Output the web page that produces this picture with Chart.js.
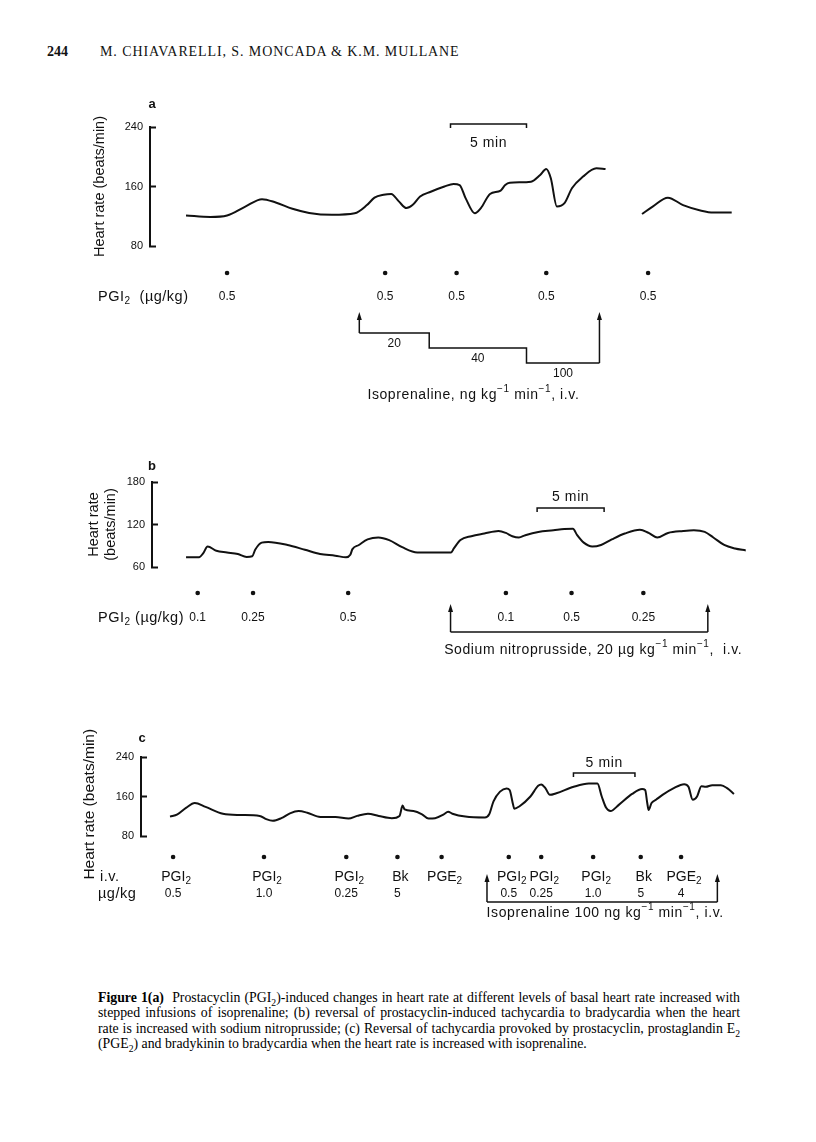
<!DOCTYPE html>
<html>
<head>
<meta charset="utf-8">
<script src="https://cdn.jsdelivr.net/npm/chart.js@4.4.1/dist/chart.umd.min.js"></script>
<style>
  body { margin: 0; background: #fff; }
  #page { position: relative; width: 816px; height: 1142px; overflow: hidden; color: #111; font-family: "Liberation Serif", "Times New Roman", serif; }
  canvas { position: absolute; left: 0; }
  #head { position: absolute; left: 47px; top: 44px; font-size: 14px; white-space: nowrap; }
  #head b { display: inline-block; width: 53px; }
  #head span { letter-spacing: 0.9px; }
  #caption { position: absolute; left: 98px; top: 990px; width: 642px; font-size: 13.8px; line-height: 15.4px; color: #000; }
  #caption div { white-space: nowrap; text-align: justify; text-align-last: justify; }
  #caption div.last { text-align-last: left; }
  sub { font-size: 70%; line-height: 0; }
</style>
</head>
<body>
<div id="page">
  <div id="head"><b>244</b><span>M. CHIAVARELLI, S. MONCADA &amp; K.M. MULLANE</span></div>
  <canvas id="chartA" width="816" height="330" style="top:80px"></canvas>
  <canvas id="chartB" width="816" height="220" style="top:450px"></canvas>
  <canvas id="chartC" width="816" height="205" style="top:725px"></canvas>
  <div id="caption">
    <div><b>Figure 1(a)</b>&nbsp; Prostacyclin (PGI<sub>2</sub>)-induced changes in heart rate at different levels of basal heart rate increased with</div>
    <div>stepped infusions of isoprenaline; (b) reversal of prostacyclin-induced tachycardia to bradycardia when the heart</div>
    <div>rate is increased with sodium nitroprusside; (c) Reversal of tachycardia provoked by prostacyclin, prostaglandin E<sub>2</sub></div>
    <div class="last">(PGE<sub>2</sub>) and bradykinin to bradycardia when the heart rate is increased with isoprenaline.</div>
  </div>
</div>
<script>
// panel a: time in min, heart rate in beats/min (null = gap in the record)
const aTime = [0, 1.6, 2.7, 3.9, 5.0, 5.9, 7.0, 8.1, 9.6, 11.1, 11.9, 12.4, 13.0, 13.5, 14.0, 14.5, 14.9, 15.4, 16.1, 17.0,
  17.6, 18.0, 18.4, 19.0, 19.4, 20.0, 20.7, 21.0, 21.3, 22.7, 23.3, 23.7, 24.0, 24.4, 24.9, 25.4, 26.1, 27.0, 27.6,
  28.8, 30.0, 30.7, 31.7, 32.7, 33.9, 34.7, 35.9];
const aRate = [121, 119, 121, 133, 143, 138.5, 130, 124.5, 122, 124, 135, 145, 149, 150, 140, 131, 135, 146.5, 153, 160,
  163.5, 162, 144, 124, 131, 150, 154.5, 162, 165, 166.5, 175.5, 183.5, 171, 133, 137.5, 158, 173, 184.5, 183.5,
  null, 123, 133, 145, 135, 127.5, 125, 125];
const aDoseTime = [2.7, 13.1, 17.8, 23.7, 30.4];
const aDoseLabel = ['0.5', '0.5', '0.5', '0.5', '0.5'];
const aIsoTime = [11.4, 16.0, 22.4, 27.2];
const aIsoLabel = ['20', '40', '100'];
const aBar = [17.4, 22.4];
const aTicks = [80, 240, 80];

// panel b
const bTime = [0, 0.97, 1.29, 1.61, 2.26, 3.06, 3.87, 4.52, 4.94, 5.16, 5.65, 6.13, 7.58, 8.87, 10.0, 11.13, 11.94, 12.26,
  12.42, 12.9, 13.55, 14.35, 15.16, 16.13, 17.26, 18.55, 19.77, 20.0, 20.48, 21.29, 22.26, 23.32, 23.87, 24.35, 24.84,
  25.32, 26.29, 27.42, 28.23, 28.87, 29.19, 29.68, 30.32, 30.97, 31.77, 32.74, 33.87, 34.52, 35.16, 35.97, 37.1, 37.9,
  38.71, 39.35, 40.16, 40.97, 41.77];
const bRate = [73.7, 73.7, 79.7, 88.9, 82.9, 80.6, 78.3, 74.2, 75.1, 84.3, 94.4, 95.3, 91.1, 84.3, 78.3, 76, 73.7, 77.4,
  85.2, 91.1, 98.9, 101.7, 98, 88, 80.6, 80.6, 80.6, 86.6, 98, 103.5, 107.2, 110.8, 108.1, 103.5, 101.7,
  104.9, 109.5, 111.8, 113.6, 114, 104.9, 94.4, 88.9, 91.1, 98.9, 107.2, 112.7, 108.1, 101.7, 108.1, 110.8, 111.8,
  109.5, 101.7, 91.1, 86.1, 83.4];
const bDoseTime = [0.87, 5.0, 12.1, 23.87, 28.77, 34.13];
const bDoseLabel = ['0.1', '0.25', '0.5', '0.1', '0.5', '0.25'];
const bSnpTime = [19.74, 38.94];
const bBar = [26.2, 31.2];
const bTicks = [60, 180, 60];

// panel c
const cTime = [0, 0.6, 1.3, 2.01, 2.89, 4.3, 5.7, 7.29, 7.82, 8.35, 9.05, 9.75, 10.46, 11.16, 12.22, 13.45, 14.51, 15.21,
  16.09, 16.97, 18.03, 18.66, 18.91, 19.08, 19.79, 20.49, 21.02, 21.55, 22.25, 22.61, 22.96, 24.01, 25.6, 25.95, 26.3,
  26.83, 27.36, 27.61, 27.89, 27.99, 28.42, 29.3, 29.93, 30.18, 30.53, 30.88, 31.41, 32.82, 34.05, 34.75, 35.1, 35.46,
  35.81, 36.51, 37.57, 38.38, 38.63, 38.8, 38.91, 39.15, 39.51, 40.04, 40.92, 41.8, 42.15, 42.5, 42.85, 43.2, 43.56,
  44.08, 44.79, 45.32, 45.85];
const cRate = [119.3, 123.9, 137, 146.9, 139, 125.2, 122.6, 120.7, 114.1, 110.8, 116.1, 125.9, 130.5, 127.2, 118.7, 118.7,
  115.4, 120.7, 125.2, 120.7, 116.1, 120.7, 141.6, 133.8, 130.5, 123.9, 115.4, 116.1, 123.9, 129.2, 125.2, 119.3, 117.4,
  123.9, 150.2, 169.8, 176.4, 173.1, 143.6, 135.1, 140.3, 160, 181.6, 184.3, 176.4, 163.3, 166.6, 179.7, 186.2, 186.2,
  160, 137, 130.5, 143.6, 165.2, 175.1, 173.1, 146.9, 132.5, 146.9, 153.4, 163.3, 176.4, 184.9, 179.7, 153.4, 160, 181,
  179.7, 182.9, 182.9, 176.4, 165.2];
const cDoseTime = [0.25, 7.64, 14.33, 18.49, 22.08, 27.54, 30.18, 34.4, 38.27, 41.55];
const cDrug = ['PGI2', 'PGI2', 'PGI2', 'Bk', 'PGE2', 'PGI2', 'PGI2', 'PGI2', 'Bk', 'PGE2'];
const cDose = ['0.5', '1.0', '0.25', '5', '', '0.5', '0.25', '1.0', '5', '4'];
const cIsoTime = [25.77, 44.5];
const cBar = [32.8, 37.8];
const cTicks = [80, 240, 80];

const INK = '#111';
const FONT = '"Liberation Sans", Arial, Helvetica, sans-serif';

function txt(ctx, s, x, y, size, align, weight, spacing) {
  ctx.font = (weight || '') + ' ' + size + 'px ' + FONT;
  ctx.letterSpacing = spacing || '0px';
  ctx.textAlign = align || 'center';
  ctx.textBaseline = 'middle';
  ctx.fillText(s, x, y);
  ctx.letterSpacing = '0px';
}

// parts: [text, 0 normal | 1 subscript | 2 superscript]
function rich(ctx, parts, x, y, size, align, weight, spacing) {
  const w0 = weight ? weight + ' ' : '';
  const big = w0 + size + 'px ' + FONT, small = w0 + Math.round(size * 0.72) + 'px ' + FONT;
  ctx.letterSpacing = spacing || '0px';
  let w = 0;
  parts.forEach(p => { ctx.font = p[1] ? small : big; w += ctx.measureText(p[0]).width; });
  let cx = align === 'center' ? x - w / 2 : align === 'right' ? x - w : x;
  ctx.textAlign = 'left';
  ctx.textBaseline = 'middle';
  parts.forEach(p => {
    ctx.font = p[1] ? small : big;
    const dy = p[1] === 1 ? size * 0.32 : p[1] === 2 ? -size * 0.38 : 0;
    ctx.fillText(p[0], cx, y + dy);
    cx += ctx.measureText(p[0]).width;
  });
  ctx.letterSpacing = '0px';
}

function chem(s) {
  const m = s.match(/^(PG[IE])(\d)$/);
  return m ? [[m[1], 0], [m[2], 1]] : [[s, 0]];
}

function dot(ctx, x, y) {
  ctx.beginPath(); ctx.arc(x, y, 2.3, 0, Math.PI * 2); ctx.fill();
}

function arrowUp(ctx, x, tip, from) {
  ctx.beginPath(); ctx.moveTo(x, from); ctx.lineTo(x, tip + 6); ctx.stroke();
  ctx.beginPath(); ctx.moveTo(x, tip); ctx.lineTo(x - 2.5, tip + 8); ctx.lineTo(x + 2.5, tip + 8); ctx.closePath(); ctx.fill();
}

function timeBar(ctx, x0, x1, y, textY) {
  ctx.lineWidth = 1.5;
  ctx.beginPath(); ctx.moveTo(x0, y + 4); ctx.lineTo(x0, y); ctx.lineTo(x1, y); ctx.lineTo(x1, y + 4); ctx.stroke();
  txt(ctx, '5 min', (x0 + x1) / 2, textY, 14, 'center', '', '0.6px');
}

const SUP = [[' min', 0], ['−1', 2]];

const panelA = {
  id: 'panelA',
  afterDraw(chart) {
    const { ctx, chartArea: { left, top, bottom }, scales: { x } } = chart;
    const px = t => x.getPixelForValue(t);
    ctx.save();
    ctx.strokeStyle = INK; ctx.fillStyle = INK;
    txt(ctx, 'a', left + 2, top - 23, 13, 'center', 'bold');
    timeBar(ctx, px(aBar[0]), px(aBar[1]), top - 3, top + 16);
    aDoseTime.forEach((t, i) => { dot(ctx, px(t), bottom + 27); txt(ctx, aDoseLabel[i], px(t), bottom + 51, 12); });
    rich(ctx, [['PGI', 0], ['2', 1], ['  (µg/kg)', 0]], 98, bottom + 51, 14.5, 'left', '', '0.5px');
    const sx = aIsoTime.map(px);
    const lv = [bottom + 87, bottom + 102, bottom + 117];
    ctx.lineWidth = 1.5;
    ctx.beginPath();
    ctx.moveTo(sx[0], lv[0]); ctx.lineTo(sx[1], lv[0]); ctx.lineTo(sx[1], lv[1]);
    ctx.lineTo(sx[2], lv[1]); ctx.lineTo(sx[2], lv[2]); ctx.lineTo(sx[3], lv[2]);
    ctx.stroke();
    arrowUp(ctx, sx[0], bottom + 66, lv[0]);
    arrowUp(ctx, sx[3], bottom + 66, lv[2]);
    aIsoLabel.forEach((s, i) => txt(ctx, s, (sx[i] + sx[i + 1]) / 2, lv[i] + 11, 12));
    rich(ctx, [['Isoprenaline, ng kg', 0], ['−1', 2]].concat(SUP, [[', i.v.', 0]]), (sx[0] + sx[3]) / 2 - 6, bottom + 149, 14, 'center', '', '0.6px');
    ctx.restore();
  }
};

const panelB = {
  id: 'panelB',
  afterDraw(chart) {
    const { ctx, chartArea: { left, top, bottom }, scales: { x } } = chart;
    const px = t => x.getPixelForValue(t);
    ctx.save();
    ctx.strokeStyle = INK; ctx.fillStyle = INK;
    txt(ctx, 'b', left, top - 16, 13, 'center', 'bold');
    timeBar(ctx, px(bBar[0]), px(bBar[1]), top + 26, top + 15);
    bDoseTime.forEach((t, i) => { dot(ctx, px(t), bottom + 26); txt(ctx, bDoseLabel[i], px(t), bottom + 51, 12); });
    rich(ctx, [['PGI', 0], ['2', 1], [' (µg/kg)', 0]], 98, bottom + 51, 14.5, 'left', '', '0.5px');
    const x0 = px(bSnpTime[0]), x1 = px(bSnpTime[1]), base = bottom + 65;
    ctx.lineWidth = 1.5;
    ctx.beginPath(); ctx.moveTo(x0, base); ctx.lineTo(x1, base); ctx.stroke();
    arrowUp(ctx, x0, bottom + 37, base);
    arrowUp(ctx, x1, bottom + 37, base);
    rich(ctx, [['Sodium nitroprusside, 20 µg kg', 0], ['−1', 2]].concat(SUP, [[',  i.v.', 0]]), (x0 + x1) / 2 + 14, bottom + 83, 14, 'center', '', '0.6px');
    ctx.restore();
  }
};

const panelC = {
  id: 'panelC',
  afterDraw(chart) {
    const { ctx, chartArea: { left, top, bottom }, scales: { x } } = chart;
    const px = t => x.getPixelForValue(t);
    ctx.save();
    ctx.strokeStyle = INK; ctx.fillStyle = INK;
    txt(ctx, 'c', left + 1, top - 19, 13, 'center', 'bold');
    timeBar(ctx, px(cBar[0]), px(cBar[1]), top + 16, top + 6);
    cDoseTime.forEach((t, i) => {
      dot(ctx, px(t), bottom + 21);
      rich(ctx, chem(cDrug[i]), px(t) + 3, bottom + 41, 14, 'center');
      if (cDose[i]) txt(ctx, cDose[i], px(t), bottom + 58, 12);
    });
    txt(ctx, 'i.v.', 100, bottom + 41, 14.5, 'left', '', '0.5px');
    txt(ctx, 'µg/kg', 98, bottom + 58, 14.5, 'left', '', '0.5px');
    const x0 = px(cIsoTime[0]), x1 = px(cIsoTime[1]), base = bottom + 66;
    ctx.lineWidth = 1.5;
    ctx.beginPath(); ctx.moveTo(x0, base); ctx.lineTo(x1, base); ctx.stroke();
    arrowUp(ctx, x0, bottom + 38, base);
    arrowUp(ctx, x1, bottom + 38, base);
    rich(ctx, [['Isoprenaline 100 ng kg', 0], ['−1', 2]].concat(SUP, [[', i.v.', 0]]), (x0 + x1) / 2 + 3, bottom + 77, 14, 'center', '', '0.6px');
    ctx.restore();
  }
};

function yAxis(ticks, title, width, size) {
  return {
    min: ticks[0], max: ticks[1],
    afterFit(s) { s.width = width; },
    ticks: { stepSize: ticks[2], padding: 13, color: INK, font: { family: FONT, size: 11 } },
    grid: { drawOnChartArea: false, drawTicks: true, tickLength: -6, tickWidth: 2, color: INK },
    border: { display: true, width: 2, color: INK },
    title: { display: true, text: title, color: INK, font: { family: FONT, size: size }, padding: { top: 6, bottom: 0 } }
  };
}

function makeChart(id, time, rate, xMin, xMax, yOpts, pad, plugin) {
  return new Chart(document.getElementById(id), {
    type: 'line',
    data: {
      datasets: [{
        data: time.map((t, i) => ({ x: t, y: rate[i] })),
        borderColor: INK,
        borderWidth: 2,
        pointRadius: 0,
        cubicInterpolationMode: 'monotone',
        spanGaps: false,
        fill: false
      }]
    },
    options: {
      responsive: false,
      animation: false,
      devicePixelRatio: 1,
      layout: { padding: pad },
      plugins: { legend: { display: false }, tooltip: { enabled: false } },
      scales: {
        x: { type: 'linear', min: xMin, max: xMax, display: false },
        y: yOpts
      }
    },
    plugins: [plugin]
  });
}

makeChart('chartA', aTime, aRate, -2.37, 38.42, yAxis(aTicks, 'Heart rate (beats/min)', 65, 14.5),
  { left: 85, right: 46, top: 47, bottom: 164 }, panelA);
makeChart('chartB', bTime, bRate, -2.54, 43.58, yAxis(bTicks, ['Heart rate', '(beats/min)'], 73, 14.5),
  { left: 79, right: 46, top: 32, bottom: 103 }, panelB);
makeChart('chartC', cTime, cRate, -2.36, 48.78, yAxis(cTicks, 'Heart rate (beats/min)\u2003', 67, 15.5),
  { left: 74, right: 46, top: 32, bottom: 94 }, panelC);
</script>
</body>
</html>
